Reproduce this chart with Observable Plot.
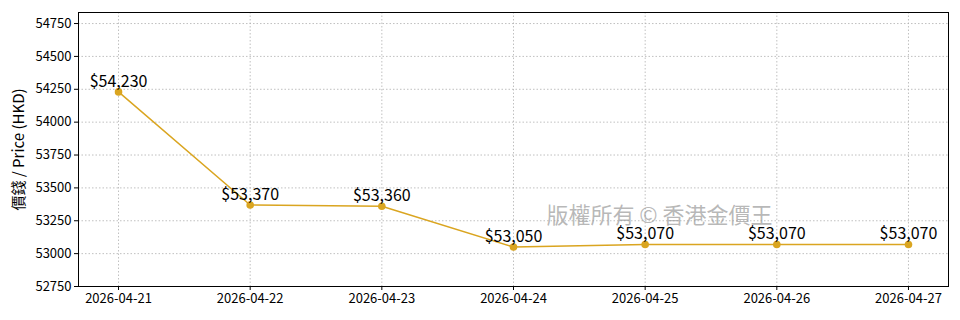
<!DOCTYPE html>
<html><head><meta charset="utf-8">
<script src="https://cdn.jsdelivr.net/npm/d3@7"></script>
<script src="https://cdn.jsdelivr.net/npm/@observablehq/plot@0.6"></script>
<style>
body{margin:0;background:#fff;}
svg{font-family:"Noto Sans CJK TC","Noto Sans",sans-serif;}
</style>
</head><body>
<div id="chart"></div>
<script>
const dates = ["2026-04-21","2026-04-22","2026-04-23","2026-04-24","2026-04-25","2026-04-26","2026-04-27"];
const prices = [54230, 53370, 53360, 53050, 53070, 53070, 53070];
const yTicks = [52750, 53000, 53250, 53500, 53750, 54000, 54250, 54500, 54750];
const yLabel = "價錢 / Price (HKD)";
const watermark = "版權所有 © 香港金價王";

const data = dates.map((d, i) => ({date: new Date(d + "T00:00:00Z"), price: prices[i]}));
const day = 86400000;
const pad = 0.304 * day;
const xDomain = [new Date(data[0].date - pad), new Date(+data[data.length-1].date + pad)];
const fmt = d3.format(",");

const chart = Plot.plot({
  width: 960, height: 320,
  marginLeft: 78, marginRight: 12, marginTop: 12, marginBottom: 34,
  style: {fontFamily: '"Noto Sans CJK TC","Noto Sans",sans-serif', fontSize: "13px", color: "#000"},
  x: {type: "utc", domain: xDomain},
  y: {domain: [52750, 54834]},
  marks: [
    Plot.gridX(data.map(d => d.date), {stroke: "#b0b0b0", strokeOpacity: 1, strokeDasharray: "1.5,2", strokeWidth: 0.8}),
    Plot.gridY(yTicks, {stroke: "#b0b0b0", strokeOpacity: 1, strokeDasharray: "1.5,2", strokeWidth: 0.8}),
    Plot.axisX(data.map(d => d.date), {tickFormat: d3.utcFormat("%Y-%m-%d"), tickSize: 4, tickPadding: 3, fontSize: 13, label: null}),
    Plot.axisY(yTicks, {tickFormat: d => String(d), tickSize: 4, tickPadding: 3, fontSize: 13, label: null}),
    Plot.text([yLabel], {frameAnchor: "left", textAnchor: "middle", dx: -59, rotate: -90, fontSize: 15, fill: "#000"}),
    Plot.frame({stroke: "#000", strokeWidth: 1}),
    Plot.text([watermark], {frameAnchor: "middle", dx: 146, dy: 66, fontSize: 22, fill: "#999", fillOpacity: 0.7}),
    Plot.line(data, {x: "date", y: "price", stroke: "#DAA520", strokeWidth: 1.5}),
    Plot.dot(data, {x: "date", y: "price", fill: "#DAA520", r: 3.8}),
    Plot.text(data, {x: "date", y: "price", text: d => "$" + fmt(d.price), dy: -5, lineAnchor: "bottom", textAnchor: "middle", fontSize: 16, fill: "#000"})
  ]
});
document.getElementById("chart").appendChild(chart);
</script>
</body></html>
